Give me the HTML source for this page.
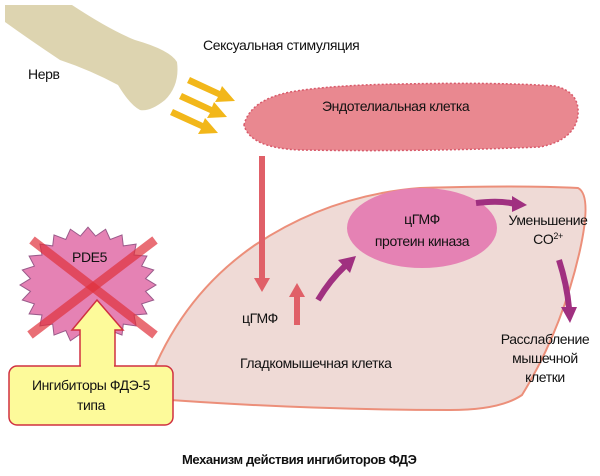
<!DOCTYPE html>
<html><head><meta charset="utf-8"><style>
body{margin:0;background:#fff}
svg{display:block}
text{font-family:"Liberation Sans",sans-serif;font-size:14px;fill:#111;letter-spacing:-0.4px}
</style></head><body>
<svg width="600" height="476" viewBox="0 0 600 476" xmlns="http://www.w3.org/2000/svg">
<path d="M5,5 L72,5 Q110,30 135,40 Q170,50 177,62 Q180,85 165,100 Q150,112 140,110 Q130,105 118,85 Q90,70 60,60 Q30,40 5,22z" fill="#ddd4b0"/>
<text x="28" y="79">Нерв</text>
<text x="203" y="50">Сексуальная стимуляция</text>
<g fill="#f2b71a">
<polygon points="190,77 220,91 222,86 235,101 215,102 218,97 187,83"/>
<polygon points="182,93 212,107 214,102 227,117 207,118 210,113 179,99"/>
<polygon points="173,109 203,123 205,118 218,133 198,134 201,129 170,115"/>
</g>
<path d="M244,125 Q250,100 290,92 Q330,85 400,84 Q500,82 555,86 Q580,92 578,115 Q575,140 540,147 Q420,152 300,150 Q250,148 244,125z" fill="#e98890" stroke="#d85a6a" stroke-width="1.5" stroke-dasharray="2,2"/>
<text x="322" y="111">Эндотелиальная клетка</text>
<path d="M143,398 Q175,300 255,245 Q330,195 420,188 Q520,185 578,188 Q592,195 580,250 Q562,330 522,395 Q500,410 450,410 Q300,410 143,398z" fill="#efdad6" stroke="#ec8f7a" stroke-width="2"/>
<line x1="262" y1="156" x2="262" y2="280" stroke="#e06068" stroke-width="6"/>
<path d="M254,278 L270,278 L262,292z" fill="#e06068"/>
<text x="242" y="323">цГМФ</text>
<line x1="297" y1="325" x2="297" y2="295" stroke="#e06068" stroke-width="6"/>
<path d="M289,297 L305,297 L297,283z" fill="#e06068"/>
<path d="M318,300 Q330,280 345,266" fill="none" stroke="#a03080" stroke-width="6"/>
<path d="M338,260 L356,256 L350,273z" fill="#a03080"/>
<ellipse cx="422" cy="228" rx="75" ry="40" fill="#e582b4"/>
<text x="422" y="224" text-anchor="middle">цГМФ</text>
<text x="422" y="246" text-anchor="middle">протеин киназа</text>
<path d="M476,203 Q500,200 515,204" fill="none" stroke="#a03080" stroke-width="6"/>
<path d="M512,196 L527,205 L512,212z" fill="#a03080"/>
<text x="548" y="225" text-anchor="middle">Уменьшение</text>
<text x="548" y="244" text-anchor="middle">CO<tspan font-size="9" dy="-5">2+</tspan></text>
<path d="M559,260 Q567,285 569,308" fill="none" stroke="#a03080" stroke-width="6"/>
<path d="M561,307 L577,307 L570,323z" fill="#a03080"/>
<text x="545" y="344" text-anchor="middle">Расслабление</text>
<text x="545" y="363" text-anchor="middle">мышечной</text>
<text x="545" y="382" text-anchor="middle">клетки</text>
<text x="240" y="368">Гладкомышечная клетка</text>
<polygon id="st" fill="#e582b4" stroke="#9a5a8a" stroke-width="1" points=""/>
<script>
(function(){var p=[],cx=88,cy=285,n=24;for(var i=0;i<2*n;i++){var a=Math.PI*i/n-Math.PI/2,r=i%2?58:68;p.push((cx+r*1.0*Math.cos(a)).toFixed(1)+","+(cy+r*0.85*Math.sin(a)).toFixed(1));}document.getElementById('st').setAttribute('points',p.join(' '));})();
</script>
<text x="72" y="262">PDE5</text>
<g stroke="#e0303a" stroke-width="9" stroke-opacity="0.7">
<line x1="32" y1="240" x2="155" y2="335"/>
<line x1="155" y1="240" x2="30" y2="335"/>
</g>
<path d="M80,368 L80,330 L72,330 L97,300 L123,330 L115,330 L115,368" fill="#fdfa9a" stroke="#d03040" stroke-width="1.5"/>
<rect x="9" y="366" width="164" height="59" rx="8" fill="#fdfa9a" stroke="#d03040" stroke-width="1.5"/>
<rect x="81" y="362" width="33" height="8" fill="#fdfa9a"/>
<text x="91" y="390" text-anchor="middle">Ингибиторы ФДЭ-5</text>
<text x="91" y="410" text-anchor="middle">типа</text>
<text x="182" y="464" style="font-weight:bold;font-size:13px">Механизм действия ингибиторов ФДЭ</text>
</svg>
</body></html>
